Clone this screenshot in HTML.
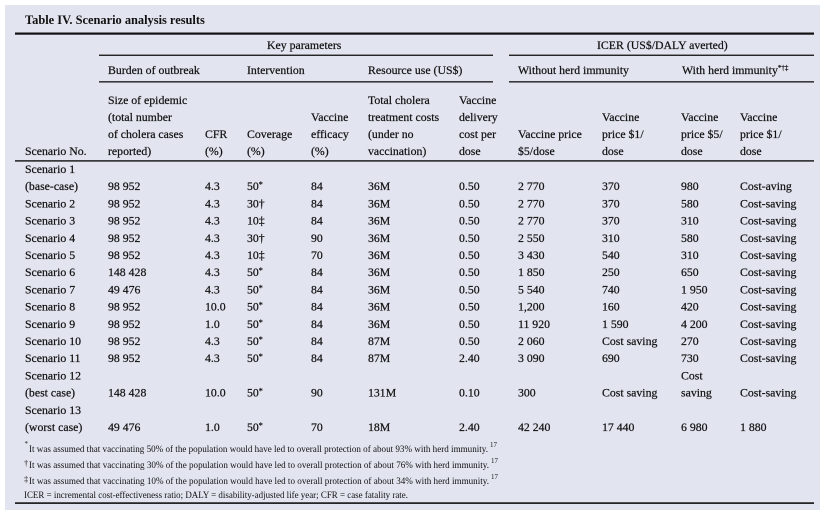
<!DOCTYPE html>
<html>
<head>
<meta charset="utf-8">
<style>
  html,body{margin:0;padding:0;background:#ffffff;}
  body{width:830px;height:519px;overflow:hidden;}
  svg{display:block;}
  text{font-family:"Liberation Serif","DejaVu Serif",serif;fill:#111;}
  .b text{stroke:#111;stroke-width:0.22;}
</style>
</head>
<body>
<svg width="830" height="519" viewBox="0 0 830 519" xmlns="http://www.w3.org/2000/svg">
  <rect x="0" y="0" width="830" height="519" fill="#ffffff"/>
  <rect x="5" y="5" width="815" height="505" fill="#e2e5f0"/>

  <!-- Title -->
  <text x="25" y="24" font-size="12.4" font-weight="bold">Table IV. Scenario analysis results</text>

  <!-- Rules -->
  <rect x="15" y="32.5" width="799" height="2.2" fill="#111"/>
  <rect x="99" y="54.6" width="394" height="1.3" fill="#111"/>
  <rect x="509" y="54.6" width="305" height="1.3" fill="#111"/>
  <rect x="99" y="81.2" width="394" height="1.3" fill="#111"/>
  <rect x="509" y="81.2" width="305" height="1.3" fill="#111"/>
  <rect x="15" y="160.2" width="799" height="1.4" fill="#111"/>
  <rect x="15" y="502.3" width="799" height="1.6" fill="#111"/>

  <g font-size="11.8" class="b">
    <!-- Section headers -->
    <text x="267" y="49">Key parameters</text>
    <text x="597" y="49">ICER (US$/DALY averted)</text>
    <text x="108" y="74">Burden of outbreak</text>
    <text x="247" y="74">Intervention</text>
    <text x="368" y="74">Resource use (US$)</text>
    <text x="518" y="74">Without herd immunity</text>
    <text x="682" y="74">With herd immunity<tspan dy="-4" font-size="7">*†‡</tspan></text>

    <!-- Column headers -->
    <text x="25" y="155">Scenario No.</text>

    <text x="108" y="104">Size of epidemic</text>
    <text x="108" y="121">(total number</text>
    <text x="108" y="138">of cholera cases</text>
    <text x="108" y="155">reported)</text>

    <text x="205" y="138">CFR</text>
    <text x="205" y="155">(%)</text>

    <text x="247" y="138">Coverage</text>
    <text x="247" y="155">(%)</text>

    <text x="311" y="121">Vaccine</text>
    <text x="311" y="138">efficacy</text>
    <text x="311" y="155">(%)</text>

    <text x="368" y="104">Total cholera</text>
    <text x="368" y="121">treatment costs</text>
    <text x="368" y="138">(under no</text>
    <text x="368" y="155">vaccination)</text>

    <text x="459" y="104">Vaccine</text>
    <text x="459" y="121">delivery</text>
    <text x="459" y="138">cost per</text>
    <text x="459" y="155">dose</text>

    <text x="518" y="138">Vaccine price</text>
    <text x="518" y="155">$5/dose</text>

    <text x="602" y="121">Vaccine</text>
    <text x="602" y="138">price $1/</text>
    <text x="602" y="155">dose</text>

    <text x="681" y="121">Vaccine</text>
    <text x="681" y="138">price $5/</text>
    <text x="681" y="155">dose</text>

    <text x="740" y="121">Vaccine</text>
    <text x="740" y="138">price $1/</text>
    <text x="740" y="155">dose</text>

    <!-- Scenario 1 (base-case) -->
    <text x="25" y="173">Scenario 1</text>
    <text x="25" y="190.2">(base-case)</text>
    <text x="108" y="190.2">98 952</text>
    <text x="205" y="190.2">4.3</text>
    <text x="247" y="190.2">50<tspan dy="-3" font-size="8">*</tspan></text>
    <text x="311" y="190.2">84</text>
    <text x="368" y="190.2">36M</text>
    <text x="459" y="190.2">0.50</text>
    <text x="518" y="190.2">2 770</text>
    <text x="602" y="190.2">370</text>
    <text x="681" y="190.2">980</text>
    <text x="740" y="190.2">Cost-aving</text>

    <!-- Scenario 2 -->
    <text x="25" y="207.4">Scenario 2</text>
    <text x="108" y="207.4">98 952</text>
    <text x="205" y="207.4">4.3</text>
    <text x="247" y="207.4">30†</text>
    <text x="311" y="207.4">84</text>
    <text x="368" y="207.4">36M</text>
    <text x="459" y="207.4">0.50</text>
    <text x="518" y="207.4">2 770</text>
    <text x="602" y="207.4">370</text>
    <text x="681" y="207.4">580</text>
    <text x="740" y="207.4">Cost-saving</text>

    <!-- Scenario 3 -->
    <text x="25" y="224.6">Scenario 3</text>
    <text x="108" y="224.6">98 952</text>
    <text x="205" y="224.6">4.3</text>
    <text x="247" y="224.6">10‡</text>
    <text x="311" y="224.6">84</text>
    <text x="368" y="224.6">36M</text>
    <text x="459" y="224.6">0.50</text>
    <text x="518" y="224.6">2 770</text>
    <text x="602" y="224.6">370</text>
    <text x="681" y="224.6">310</text>
    <text x="740" y="224.6">Cost-saving</text>

    <!-- Scenario 4 -->
    <text x="25" y="241.8">Scenario 4</text>
    <text x="108" y="241.8">98 952</text>
    <text x="205" y="241.8">4.3</text>
    <text x="247" y="241.8">30†</text>
    <text x="311" y="241.8">90</text>
    <text x="368" y="241.8">36M</text>
    <text x="459" y="241.8">0.50</text>
    <text x="518" y="241.8">2 550</text>
    <text x="602" y="241.8">310</text>
    <text x="681" y="241.8">580</text>
    <text x="740" y="241.8">Cost-saving</text>

    <!-- Scenario 5 -->
    <text x="25" y="259">Scenario 5</text>
    <text x="108" y="259">98 952</text>
    <text x="205" y="259">4.3</text>
    <text x="247" y="259">10‡</text>
    <text x="311" y="259">70</text>
    <text x="368" y="259">36M</text>
    <text x="459" y="259">0.50</text>
    <text x="518" y="259">3 430</text>
    <text x="602" y="259">540</text>
    <text x="681" y="259">310</text>
    <text x="740" y="259">Cost-saving</text>

    <!-- Scenario 6 -->
    <text x="25" y="276.2">Scenario 6</text>
    <text x="108" y="276.2">148 428</text>
    <text x="205" y="276.2">4.3</text>
    <text x="247" y="276.2">50<tspan dy="-3" font-size="8">*</tspan></text>
    <text x="311" y="276.2">84</text>
    <text x="368" y="276.2">36M</text>
    <text x="459" y="276.2">0.50</text>
    <text x="518" y="276.2">1 850</text>
    <text x="602" y="276.2">250</text>
    <text x="681" y="276.2">650</text>
    <text x="740" y="276.2">Cost-saving</text>

    <!-- Scenario 7 -->
    <text x="25" y="293.4">Scenario 7</text>
    <text x="108" y="293.4">49 476</text>
    <text x="205" y="293.4">4.3</text>
    <text x="247" y="293.4">50<tspan dy="-3" font-size="8">*</tspan></text>
    <text x="311" y="293.4">84</text>
    <text x="368" y="293.4">36M</text>
    <text x="459" y="293.4">0.50</text>
    <text x="518" y="293.4">5 540</text>
    <text x="602" y="293.4">740</text>
    <text x="681" y="293.4">1 950</text>
    <text x="740" y="293.4">Cost-saving</text>

    <!-- Scenario 8 -->
    <text x="25" y="310.6">Scenario 8</text>
    <text x="108" y="310.6">98 952</text>
    <text x="205" y="310.6">10.0</text>
    <text x="247" y="310.6">50<tspan dy="-3" font-size="8">*</tspan></text>
    <text x="311" y="310.6">84</text>
    <text x="368" y="310.6">36M</text>
    <text x="459" y="310.6">0.50</text>
    <text x="518" y="310.6">1,200</text>
    <text x="602" y="310.6">160</text>
    <text x="681" y="310.6">420</text>
    <text x="740" y="310.6">Cost-saving</text>

    <!-- Scenario 9 -->
    <text x="25" y="327.8">Scenario 9</text>
    <text x="108" y="327.8">98 952</text>
    <text x="205" y="327.8">1.0</text>
    <text x="247" y="327.8">50<tspan dy="-3" font-size="8">*</tspan></text>
    <text x="311" y="327.8">84</text>
    <text x="368" y="327.8">36M</text>
    <text x="459" y="327.8">0.50</text>
    <text x="518" y="327.8">11 920</text>
    <text x="602" y="327.8">1 590</text>
    <text x="681" y="327.8">4 200</text>
    <text x="740" y="327.8">Cost-saving</text>

    <!-- Scenario 10 -->
    <text x="25" y="345">Scenario 10</text>
    <text x="108" y="345">98 952</text>
    <text x="205" y="345">4.3</text>
    <text x="247" y="345">50<tspan dy="-3" font-size="8">*</tspan></text>
    <text x="311" y="345">84</text>
    <text x="368" y="345">87M</text>
    <text x="459" y="345">0.50</text>
    <text x="518" y="345">2 060</text>
    <text x="602" y="345">Cost saving</text>
    <text x="681" y="345">270</text>
    <text x="740" y="345">Cost-saving</text>

    <!-- Scenario 11 -->
    <text x="25" y="362.2">Scenario 11</text>
    <text x="108" y="362.2">98 952</text>
    <text x="205" y="362.2">4.3</text>
    <text x="247" y="362.2">50<tspan dy="-3" font-size="8">*</tspan></text>
    <text x="311" y="362.2">84</text>
    <text x="368" y="362.2">87M</text>
    <text x="459" y="362.2">2.40</text>
    <text x="518" y="362.2">3 090</text>
    <text x="602" y="362.2">690</text>
    <text x="681" y="362.2">730</text>
    <text x="740" y="362.2">Cost-saving</text>

    <!-- Scenario 12 (best case) -->
    <text x="25" y="379.4">Scenario 12</text>
    <text x="681" y="379.4">Cost</text>
    <text x="25" y="396.6">(best case)</text>
    <text x="108" y="396.6">148 428</text>
    <text x="205" y="396.6">10.0</text>
    <text x="247" y="396.6">50<tspan dy="-3" font-size="8">*</tspan></text>
    <text x="311" y="396.6">90</text>
    <text x="368" y="396.6">131M</text>
    <text x="459" y="396.6">0.10</text>
    <text x="518" y="396.6">300</text>
    <text x="602" y="396.6">Cost saving</text>
    <text x="681" y="396.6">saving</text>
    <text x="740" y="396.6">Cost-saving</text>

    <!-- Scenario 13 (worst case) -->
    <text x="25" y="413.8">Scenario 13</text>
    <text x="25" y="431">(worst case)</text>
    <text x="108" y="431">49 476</text>
    <text x="205" y="431">1.0</text>
    <text x="247" y="431">50<tspan dy="-3" font-size="8">*</tspan></text>
    <text x="311" y="431">70</text>
    <text x="368" y="431">18M</text>
    <text x="459" y="431">2.40</text>
    <text x="518" y="431">42 240</text>
    <text x="602" y="431">17 440</text>
    <text x="681" y="431">6 980</text>
    <text x="740" y="431">1 880</text>
  </g>

  <!-- Footnotes -->
  <g font-size="9">
    <text x="24.5" y="446" font-size="7">*</text>
    <text x="29" y="452" textLength="459" lengthAdjust="spacingAndGlyphs">It was assumed that vaccinating 50% of the population would have led to overall protection of about 93% with herd immunity.</text>
    <text x="490" y="447" font-size="7">17</text>

    <text x="24" y="466" font-size="8.5">†</text>
    <text x="29" y="468" textLength="460" lengthAdjust="spacingAndGlyphs">It was assumed that vaccinating 30% of the population would have led to overall protection of about 76% with herd immunity.</text>
    <text x="491" y="463" font-size="7">17</text>

    <text x="24" y="482" font-size="8.5">‡</text>
    <text x="29" y="484" textLength="460" lengthAdjust="spacingAndGlyphs">It was assumed that vaccinating 10% of the population would have led to overall protection of about 34% with herd immunity.</text>
    <text x="491" y="479" font-size="7">17</text>

    <text x="24" y="498" textLength="384" lengthAdjust="spacingAndGlyphs">ICER = incremental cost-effectiveness ratio; DALY = disability-adjusted life year; CFR = case fatality rate.</text>
  </g>
</svg>
</body>
</html>
